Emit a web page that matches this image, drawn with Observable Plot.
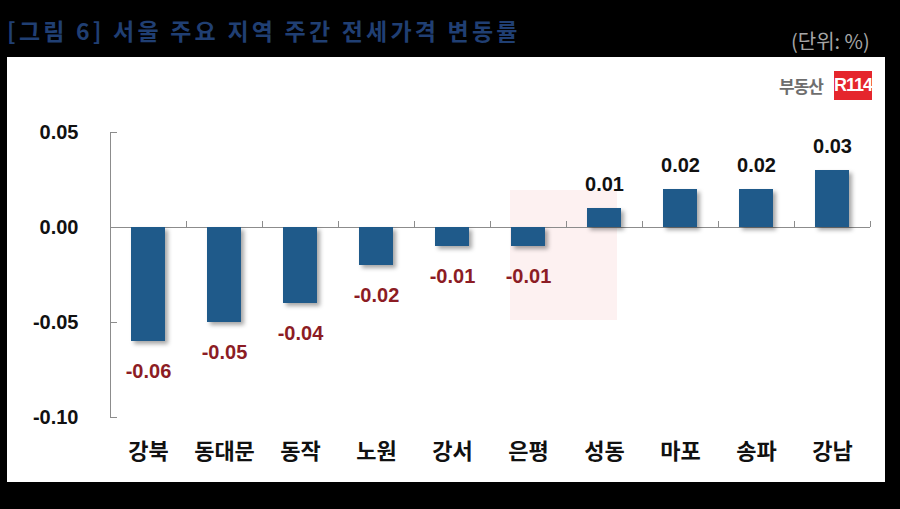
<!DOCTYPE html>
<html><head><meta charset="utf-8">
<script src="https://cdn.jsdelivr.net/npm/d3@7"></script>
<script src="https://cdn.jsdelivr.net/npm/@observablehq/plot@0.6"></script>
<style>
body{margin:0;background:#000;width:900px;height:509px;overflow:hidden;position:relative;font-family:"Liberation Sans","Noto Sans CJK KR",sans-serif;}
#title{position:absolute;left:7px;top:13px;font-size:23px;font-weight:bold;color:#203f73;letter-spacing:3.2px;font-family:"Noto Sans CJK KR",sans-serif;white-space:nowrap;}
#unit{position:absolute;left:791px;top:26px;font-size:20px;color:#a6a6a6;font-family:"Noto Sans CJK KR",sans-serif;white-space:nowrap;}
#panel{position:absolute;left:7px;top:57px;width:878px;height:425px;background:#fff;}
#wm{position:absolute;left:503px;top:133px;width:107px;height:130px;background:#fdf1f1;}
#logo-k{position:absolute;left:772px;top:18px;font-family:"Noto Sans CJK KR",sans-serif;font-weight:bold;font-size:17px;line-height:22px;color:#6e6e6e;letter-spacing:-1px;}
#logo-r{position:absolute;left:827px;top:14px;background:#e5262d;color:#fff;font-weight:bold;font-size:18px;width:38px;height:29px;line-height:29px;text-align:center;letter-spacing:-1px;}
#chart{position:absolute;left:0;top:0;}
#chart g[aria-label="bar"]{filter:drop-shadow(3px 3px 2px rgba(0,0,0,0.35));}
</style>
</head><body>
<div id="title">[그림 6] 서울 주요 지역 주간 전세가격 변동률</div>
<div id="unit">(단위: %)</div>
<div id="panel">
  <div id="wm"></div>
  <div id="logo-k">부동산</div>
  <div id="logo-r">R114</div>
  <div id="chart"></div>
</div>
<script>
const categories = ["강북","동대문","동작","노원","강서","은평","성동","마포","송파","강남"];
const values = [-0.06,-0.05,-0.04,-0.02,-0.01,-0.01,0.01,0.02,0.02,0.03];
const yTicks = [0.05, 0.00, -0.05, -0.10];

const data = categories.map((c, i) => ({region: c, value: values[i]}));
const fmt = d => d.toFixed(2);
const axisColor = "#8c8c8c";

const chart = Plot.plot({
  width: 878,
  height: 425,
  marginLeft: 103,
  marginRight: 15,
  marginTop: 75,
  marginBottom: 65,
  style: {background: "transparent", fontFamily: "'Liberation Sans','Noto Sans CJK KR',sans-serif", overflow: "visible"},
  x: {domain: categories, paddingInner: 0.553, paddingOuter: 0.2765, label: null},
  y: {domain: [-0.10, 0.05], label: null},
  marks: [
    Plot.frame({anchor: "left", stroke: axisColor}),
    Plot.ruleY(yTicks, {stroke: axisColor, insetRight: 753}),
    Plot.ruleY([0], {stroke: axisColor}),
    Plot.ruleX(categories, {x: d => d, y1: 0.05, y2: 0, insetTop: 89, dx: 38, stroke: axisColor}),
    Plot.barY(data, {x: "region", y: "value", fill: "#1f5a8a"}),
    Plot.text(data.filter(d => d.value > 0), {x: "region", y: "value", text: d => fmt(d.value), dy: -24, fontSize: 20, fontWeight: "bold", fill: "#111"}),
    Plot.text(data.filter(d => d.value < 0), {x: "region", y: "value", text: d => fmt(d.value), dy: 30, fontSize: 20, fontWeight: "bold", fill: "#8c1c24"}),
    Plot.axisY(yTicks, {tickSize: 0, tickPadding: 32, tickFormat: fmt, fontSize: 20, fontWeight: "bold", fill: "#111"}),
    Plot.axisX({tickSize: 0, tickPadding: 26, fontSize: 22, fontWeight: "bold", fill: "#111", fontFamily: "'Noto Sans CJK KR',sans-serif"})
  ]
});
document.getElementById("chart").appendChild(chart);
</script>
</body></html>
